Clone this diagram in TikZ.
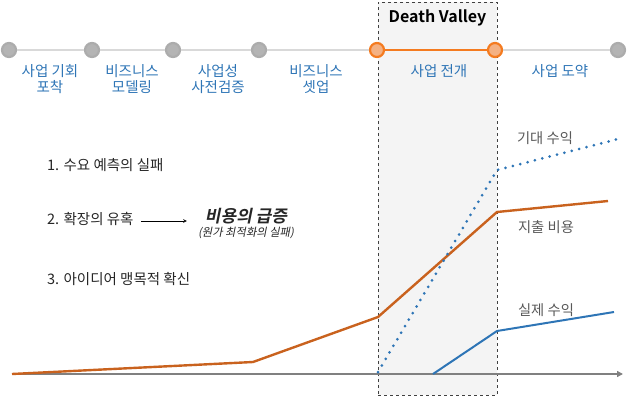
\documentclass[tikz,border=0pt]{standalone}
\usepackage{fontspec}
\setmainfont{Noto Sans CJK KR}[BoldFont={Noto Sans CJK KR Bold}]
\newfontfamily\surgefont{Noto Sans CJK KR Bold}[FakeSlant=0.2]
\newfontfamily\notefont{Noto Sans CJK KR}[FakeSlant=0.2]
\usepackage{xcolor}
\usepackage{tikz}
\usetikzlibrary{arrows.meta, positioning}
\definecolor{phaseblue}{HTML}{2E75B6}
\definecolor{costorange}{HTML}{C9621E}
\definecolor{hotorange}{HTML}{F47B20}
\definecolor{hotpeach}{HTML}{F4B183}
\definecolor{stagegray}{HTML}{B4B4B4}
\definecolor{labelgray}{HTML}{595959}
\tikzstyle{stage}   = [circle, minimum size=14pt, inner sep=0pt,
                        line width=2.2pt, draw=gray!65, fill=stagegray]
\tikzstyle{hot}     = [stage, draw=hotorange, fill=hotpeach]
\tikzstyle{track}   = [line width=2.4pt, draw=gray!30]
\tikzstyle{phase}   = [anchor=north, align=center, inner sep=0pt,
                        text=phaseblue, font=\fontsize{14.5}{16}\selectfont]
\tikzstyle{valley}  = [rectangle, dashed, draw=black!75, fill=gray!9,
                        minimum width=119pt, minimum height=393pt]
\tikzstyle{cause}   = [anchor=west, inner sep=0pt, text=black!85,
                        font=\fontsize{14.5}{16}\selectfont]
\tikzstyle{curve}   = [inner sep=0pt, text=labelgray,
                        font=\fontsize{14.3}{16}\selectfont]
\tikzstyle{arrow}   = [semithick,->,>=stealth]
\tikzstyle{axisline}= [line width=1.4pt, draw=gray, -{Triangle[length=6pt,width=6pt]}]
\tikzstyle{cost}    = [line width=2.4pt, draw=costorange, line join=round]
\tikzstyle{gain}    = [line width=2pt, draw=phaseblue, line join=round]
\tikzstyle{hope}    = [line width=3pt, draw=phaseblue, line cap=round,
                        dash pattern=on 0pt off 7.6pt]

\begin{document}
\begin{tikzpicture}[x=1pt, y=-1pt]
\useasboundingbox (0,0) rectangle (630,397);

% death valley zone
\node (valley) [valley] at (437.5,198.5) {};
\node (dvtitle) [below=8pt of valley.north, anchor=north, inner sep=0pt,
                 font=\fontsize{16}{18}\selectfont\bfseries] {Death Valley};

% timeline
\node (s1) [stage] at (9,50)   {};
\node (s2) [stage] at (92,50)  {};
\node (s3) [stage] at (173,50) {};
\node (s4) [stage] at (259,50) {};
\node (s5) [hot]   at (377,50) {};
\node (s6) [hot]   at (495,50) {};
\node (s7) [stage] at (618,50) {};

\draw [track] (s1) -- (s2);
\draw [track] (s2) -- (s3);
\draw [track] (s3) -- (s4);
\draw [track] (s4) -- (s5);
\draw [track, draw=hotorange] (s5) -- (s6);
\draw [track] (s6) -- (s7);

\node (p1) [phase] at (50,64)  {사업 기회\\포착};
\node (p2) [phase] at (132,64) {비즈니스\\모델링};
\node (p3) [phase] at (218,64) {사업성\\사전검증};
\node (p4) [phase] at (316,64) {비즈니스\\셋업};
\node (p5) [phase] at (439,64) {사업 전개};
\node (p6) [phase] at (560,64) {사업 도약};

% causes
\node (t1) [cause] at (47,165) {1. 수요 예측의 실패};
\node (t2) [cause] at (47,219) {2. 확장의 유혹};
\node (t3) [cause] at (47,279) {3. 아이디어 맹목적 확신};
\node (surge) [inner sep=0pt, text=black!85,
               font=\fontsize{17}{19}\selectfont\surgefont] at (246,216) {비용의 급증};
\node (surgenote) [below=3pt of surge, inner sep=0pt, text=black!85,
                   font=\fontsize{11.3}{13}\selectfont\notefont] {(원가 최적화의 실패)};
\draw [arrow, shorten <=7pt, shorten >=18pt]
      ([yshift=-2pt]t2.east) -- ([yshift=-2pt]t2.east -| surge.west);

% chart
\coordinate (o)    at (12,374);
\coordinate (xend) at (623,374);
\draw [axisline] (o) -- (xend);

\coordinate (c1) at (253,362);
\coordinate (c2) at (378,317);
\coordinate (c3) at (497,212);
\coordinate (c4) at (608,201);
\draw [cost] (o) -- (c1) -- (c2) -- (c3) -- (c4);

\coordinate (e0) at (378,372);
\coordinate (e1) at (497,170);
\coordinate (e2) at (622,138);
\draw [hope] (e0) -- (e1) -- (e2);

\coordinate (a0) at (433,374);
\coordinate (a1) at (497,331);
\coordinate (a2) at (614,312);
\draw [gain] (a0) -- (a1) -- (a2);

\node (hopelabel) [curve] at (545,138) {기대 수익};
\node (costlabel) [curve] at (546,227) {지출 비용};
\node (gainlabel) [curve] at (546,310) {실제 수익};

\end{tikzpicture}
\end{document}
